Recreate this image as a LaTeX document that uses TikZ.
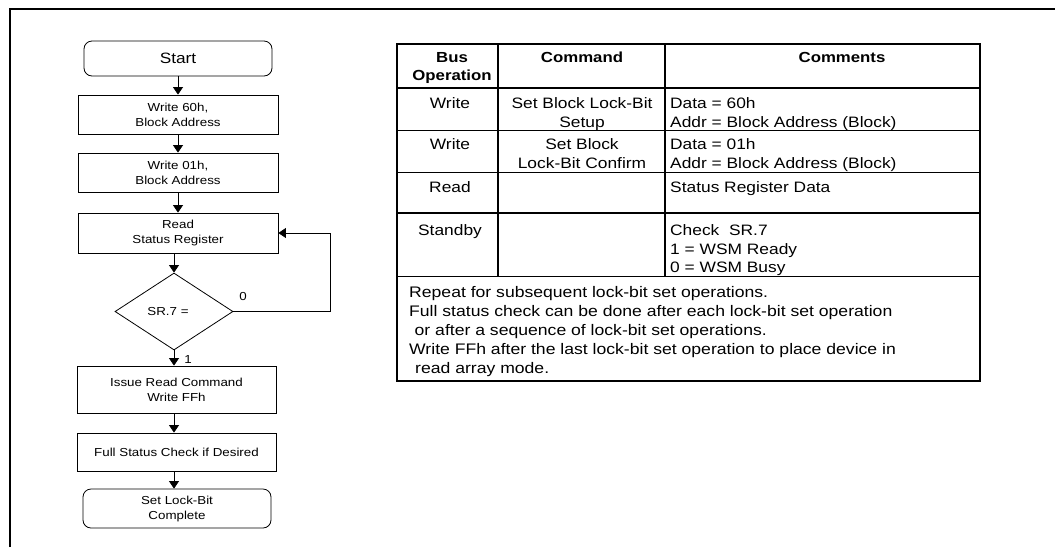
\documentclass[tikz,border=0pt]{standalone}
\usepackage{fontspec}
\setmainfont[FakeStretch=1.15]{Liberation Sans}
\usetikzlibrary{shapes.geometric,arrows.meta}
\newcommand{\firstln}{\rule{0pt}{12pt}}
\begin{document}
\begin{tikzpicture}[x=1pt,y=-1pt,
  boxtxt/.style={font=\fontsize{11.6}{15}\selectfont},
  proc/.style={draw, line width=0.8pt, boxtxt, align=center, inner sep=0pt},
  term/.style={proc, rounded corners=8pt},
  arr/.style={-{Triangle[length=7.5pt,width=10pt]}, line width=0.8pt},
  tbl/.style={font=\fontsize{15.1}{18.7}\selectfont, inner sep=0pt},
  hdr/.style={font=\fontsize{14.6}{18}\selectfont\bfseries, inner sep=0pt, anchor=north, align=center},
  ctr/.style={tbl, anchor=north, align=center},
  lft/.style={tbl, anchor=north west, align=left},
  thick2/.style={line width=2pt},
  thin1/.style={line width=1pt}]
\useasboundingbox (0,0) rectangle (1055,547);
% outer frame
\draw[thick2] (10,547) -- (10,9) -- (1055,9);

% flowchart
\node[term, font=\fontsize{15}{18}\selectfont, minimum width=188pt, minimum height=35pt] (start) at (178,58.5) {Start};
\node[proc, minimum width=200pt, minimum height=39pt] (w60) at (178,114.5) {Write 60h,\\Block Address};
\node[proc, minimum width=200pt, minimum height=39pt] (w01) at (178,172.5) {Write 01h,\\Block Address};
\node[proc, minimum width=200pt, minimum height=40pt] (rsr) at (178,233) {Read\\Status Register};
\node[draw, diamond, line width=0.8pt, boxtxt, inner sep=0pt, minimum width=118pt, minimum height=77pt] (dec) at (174,311.5) {SR.7 =\hspace*{12pt}};
\node[proc, minimum width=199pt, minimum height=47pt] (irc) at (176.5,389.5) {Issue Read Command\\Write FFh};
\node[proc, minimum width=199pt, minimum height=38pt] (fsc) at (176.5,452) {Full Status Check if Desired};
\node[term, minimum width=188pt, minimum height=39pt] (done) at (177,508.5) {Set Lock-Bit\\Complete};
\node[boxtxt, inner sep=0pt] (l0) at (243,296) {0};
\node[boxtxt, inner sep=0pt] (l1) at (188,360) {1};
\coordinate (lx) at (330,233);

\draw[arr] (start) -- (w60);
\draw[arr] (w60) -- (w01);
\draw[arr] (w01) -- (rsr);
\draw[arr] (rsr.south -| dec.north) -- (dec.north);
\draw[arr] (dec.south) -- (dec.south |- irc.north);
\draw[arr] (irc.south -| dec.south) -- (fsc.north -| dec.south);
\draw[arr] (fsc.south -| dec.south) -- (done.north -| dec.south);
\draw[arr] (dec.east) -| (lx) -- (rsr.east);

% table lines
\draw[thick2] (397,44) rectangle (980,381);
\draw[line width=2.6pt] (397,88) -- (980,88);
\draw[thin1] (397,130) -- (980,130);
\draw[thin1] (397,172) -- (980,172);
\draw[thick2] (397,213) -- (980,213);
\draw[thin1] (397,276) -- (980,276);
\draw[line width=1.6pt] (498,44) -- (498,276);
\draw[line width=1.6pt] (665,44) -- (665,276);

% header
\node[hdr] (h1) at (452,50) {\firstln Bus\\Operation};
\node[hdr] (h2) at (582,50) {\firstln Command};
\node[hdr] (h3) at (842,50) {\firstln Comments};
% row 1
\node[ctr] (r1a) at (450,96.5) {\firstln Write};
\node[ctr] (r1b) at (582,96.5) {\firstln Set Block Lock-Bit\\Setup};
\node[lft] (r1c) at (670,96.5) {\firstln Data = 60h\\Addr = Block Address (Block)};
% row 2
\node[ctr] (r2a) at (450,137.3) {\firstln Write};
\node[ctr] (r2b) at (582,137.3) {\firstln Set Block\\Lock-Bit Confirm};
\node[lft] (r2c) at (670,137.3) {\firstln Data = 01h\\Addr = Block Address (Block)};
% row 3
\node[ctr] (r3a) at (450,180) {\firstln Read};
\node[lft] (r3c) at (670,180) {\firstln Status Register Data};
% row 4
\node[ctr] (r4a) at (450,223.3) {\firstln Standby};
\node[lft] (r4c) at (670,223.3) {\firstln Check\ \ SR.7\\1 = WSM Ready\\0 = WSM Busy};
% notes
\node[lft, font=\fontsize{15.3}{19}\selectfont] (notes) at (409,285) {\firstln Repeat for subsequent lock-bit set operations.\\
Full status check can be done after each lock-bit set operation\\
\hspace*{5.5pt}or after a sequence of lock-bit set operations.\\
Write FFh after the last lock-bit set operation to place device in\\
\hspace*{6pt}read array mode.};
\end{tikzpicture}
\end{document}
